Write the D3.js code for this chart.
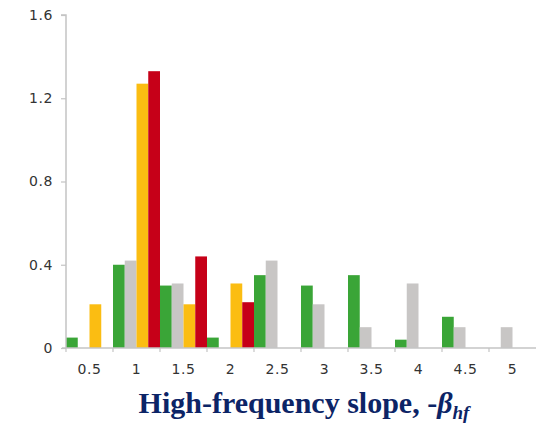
<!DOCTYPE html>
<html>
<head>
<meta charset="utf-8">
<script src="https://cdn.jsdelivr.net/npm/d3@7"></script>
<style>
  html, body { margin: 0; padding: 0; background: #fff; }
  svg { display: block; }
</style>
</head>
<body>
<svg id="chart" width="537" height="426"></svg>
<script>
// Bin labels along the x axis (slope value of each bin)
const categories = ["0.5", "1", "1.5", "2", "2.5", "3", "3.5", "4", "4.5", "5"];
// Series names, drawn side by side inside each bin
const seriesNames = ["green", "gray", "yellow", "red"];
const seriesColors = ["#3aa537", "#c8c6c5", "#fbbd12", "#c60018"];
// Values per bin for each series
const greenValues  = [0.05, 0.40, 0.30, 0.05, 0.35, 0.30, 0.35, 0.04, 0.15, 0];
const grayValues   = [0,    0.42, 0.31, 0,    0.42, 0.21, 0.10, 0.31, 0.10, 0.10];
const yellowValues = [0.21, 1.27, 0.21, 0.31, 0,    0,    0,    0,    0,    0];
const redValues    = [0,    1.33, 0.44, 0.22, 0,    0,    0,    0,    0,    0];
const yTicks = [0, 0.4, 0.8, 1.2, 1.6];

const seriesValues = [greenValues, grayValues, yellowValues, redValues];

const svg = d3.select("#chart");

const x = d3.scaleBand().domain(categories).range([66, 536]).padding(0);
const xs = d3.scaleBand().domain(seriesNames).range([0, x.bandwidth()]).padding(0);
const y = d3.scaleLinear().domain([0, 1.6]).range([348, 15]);

const axisColor = "#c4c4c4";
const tickText = "#333333";
const tickFont = "'DejaVu Sans', Verdana, sans-serif";

// Bars
const rows = categories.map((c, i) => ({
  cat: c,
  vals: seriesNames.map((s, j) => ({ s, j, v: seriesValues[j][i] }))
}));

const groups = svg.append("g").selectAll("g")
  .data(rows).join("g")
  .attr("transform", d => `translate(${x(d.cat)},0)`);

groups.selectAll("rect")
  .data(d => d.vals.filter(e => e.v > 0))
  .join("rect")
  .attr("x", d => xs(d.s))
  .attr("width", xs.bandwidth())
  .attr("y", d => y(d.v))
  .attr("height", d => y(0) - y(d.v))
  .attr("fill", d => seriesColors[d.j]);

// Y axis
const yAxis = d3.axisLeft(y).tickValues(yTicks).tickSize(5).tickPadding(8)
  .tickFormat(d => d === 0 ? "0" : d3.format(".1f")(d));
const gy = svg.append("g").attr("transform", "translate(66,0)").call(yAxis);
gy.select(".domain").attr("stroke", axisColor).attr("stroke-width", 1.5)
  .attr("d", `M-5,${y(1.6)}H0V${y(0)}`);
gy.selectAll(".tick line").attr("stroke", axisColor).attr("stroke-width", 1.2);
gy.selectAll(".tick text")
  .attr("fill", tickText)
  .style("font-family", tickFont)
  .style("font-size", "14px")
  .style("letter-spacing", "0.6px");

// X axis: baseline, boundary ticks and centred labels
const gx = svg.append("g").attr("transform", `translate(0,${y(0)})`);
gx.append("line")
  .attr("x1", 62).attr("x2", 536)
  .attr("stroke", axisColor).attr("stroke-width", 1.5);
const bounds = categories.map(c => x(c));
gx.selectAll("line.bt").data(bounds).join("line")
  .attr("class", "bt")
  .attr("x1", d => d).attr("x2", d => d)
  .attr("y1", 0).attr("y2", 4)
  .attr("stroke", axisColor).attr("stroke-width", 1.2);
gx.selectAll("text").data(categories).join("text")
  .attr("x", d => x(d) + x.bandwidth() / 2)
  .attr("y", 26)
  .attr("text-anchor", "middle")
  .attr("fill", tickText)
  .style("font-family", tickFont)
  .style("font-size", "14px")
  .style("letter-spacing", "0.6px")
  .text(d => d);

// Axis title
const title = svg.append("text")
  .attr("x", 304).attr("y", 413)
  .attr("text-anchor", "middle")
  .attr("fill", "#0c2466")
  .style("font-family", "'Liberation Serif', 'Times New Roman', serif")
  .style("font-weight", "bold")
  .style("font-size", "30px");
title.append("tspan").text("High-frequency slope, -");
title.append("tspan").style("font-style", "italic").text("β");
title.append("tspan").style("font-style", "italic").style("font-size", "19px")
  .attr("dy", 6).text("hf");
</script>
</body>
</html>
